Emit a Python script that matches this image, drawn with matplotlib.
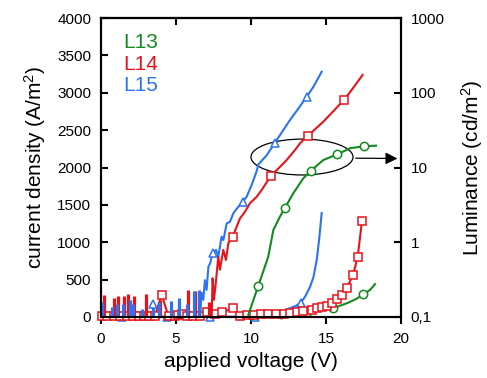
import matplotlib
matplotlib.use("Agg")
import matplotlib.pyplot as plt
from matplotlib.patches import Ellipse
from matplotlib.ticker import NullLocator

plt.rcParams['font.family'] = ['Liberation Sans', 'DejaVu Sans']
plt.rcParams['mathtext.fontset'] = 'custom'
plt.rcParams['mathtext.rm'] = 'Liberation Sans'
plt.rcParams['mathtext.it'] = 'Liberation Sans'

GREEN = '#138a1f'
RED = '#e5141b'
BLUE = '#2b73f2'

# ---------------- data ----------------
x_ticks = [0, 5, 10, 15, 20]
j_ticks = [0, 500, 1000, 1500, 2000, 2500, 3000, 3500, 4000]
lum_ticks = [0.1, 1, 10, 100, 1000]
lum_tick_labels = ['0,1', '1', '10', '100', '1000']
series_names = ['L13', 'L14', 'L15']

# current density (A/m^2), left axis
j_red_v = [0.04, 0.42, 0.85, 1.25, 1.7, 2.1, 2.5, 2.85, 3.2, 3.6, 4.04, 4.5, 4.9, 5.1, 5.4,
           5.75, 6.16, 6.6, 7.04, 7.6, 8.04, 8.78, 9.27, 9.75, 10.2, 10.67, 11.15, 11.67,
           12.2, 12.6, 13.04, 13.49, 14.04, 14.38, 14.71, 15.04, 15.38, 15.71, 16.04,
           16.38, 16.8, 17.11, 17.4]
j_red = [10, 10, 10, 10, 10, 10, 10, 10, 10, 10, 300, 10, 10, 30, 40,
         10, 10, 10, 71, 40, 62, 116, 20, 22, 27, 36, 36, 40,
         40, 58, 62, 80, 94, 116, 130, 151, 183, 237, 294,
         384, 562, 799, 1289]

j_blue_v = [0.0, 1.38, 4.38, 7.27, 10.27, 11.9, 12.5, 13.0, 13.31, 13.6, 13.93, 14.16, 14.38, 14.56, 14.71]
j_blue = [5, 5, 5, 5, 5, 40, 110, 150, 190, 270, 400, 530, 760, 1070, 1390]
j_blue_marks = [1, 2, 3, 4, 8]

j_green_v = [9.8, 9.98, 11.0, 12.0, 13.0, 13.71, 14.6, 15.49, 16.38, 17.0, 17.49, 17.93, 18.27]
j_green = [5, 27, 33, 40, 52, 62, 85, 120, 183, 240, 303, 361, 440]
j_green_marks = [1, 3, 5, 7, 10]

# luminance (cd/m^2), right axis
lum_blue_v = [6.6, 6.71, 6.82, 6.93, 7.04, 7.16, 7.27, 7.44, 7.67, 7.82, 8.04, 8.16, 8.38, 8.6,
              8.82, 9.16, 9.45, 9.71, 10.04, 10.38, 10.49, 11.04, 11.6, 12.16, 12.6, 13.27,
              13.71, 14.16, 14.71]
lum_blue = [0.1, 0.21, 0.17, 0.31, 0.23, 0.47, 0.52, 0.71, 0.79, 0.64, 1.19, 1.07, 1.79, 1.88,
            2.44, 2.99, 3.48, 4.06, 5.8, 9.0, 11.0, 14.5, 21.5, 31.8, 43.2, 66.0,
            88.5, 120, 191]
lum_blue_mark_v = [3.44, 7.44, 9.45, 11.6, 13.71]
lum_blue_mark = [0.15, 0.71, 3.48, 21.5, 88.5]

lum_red_v = [7.38, 7.44, 7.53, 7.67, 7.82, 7.93, 8.15, 8.33, 8.49, 8.78, 9.27, 9.6, 9.93,
             10.38, 10.71, 11.15, 11.31, 11.93, 12.38, 12.93, 13.27, 13.8, 14.82, 16.2,
             16.71, 17.44]
lum_red = [0.1, 0.33, 0.17, 0.31, 0.64, 0.43, 0.79, 0.58, 0.97, 1.19, 2.09, 2.56, 3.32,
           4.06, 5.0, 6.81, 7.7, 10.2, 12.6, 17.1, 21.1, 26.6, 41.0, 80.0,
           109, 173]
lum_red_mark_v = [8.78, 11.31, 13.8, 16.2]
lum_red_mark = [1.19, 7.7, 26.6, 80.0]

lum_green_v = [9.82, 10.49, 11.15, 11.49, 11.93, 12.27, 12.82, 13.49, 13.98, 14.82, 15.76,
               16.6, 17.51, 18.33]
lum_green = [0.107, 0.262, 0.64, 1.46, 2.2, 2.9, 4.52, 7.18, 9.0, 12.6, 15.0,
             18.1, 19.2, 19.6]
lum_green_mark_v = [10.49, 12.27, 13.98, 15.76, 17.51]
lum_green_mark = [0.262, 2.9, 9.0, 15.0, 19.2]

# noise spikes of luminance at low voltage
spike_red_v = [0.2, 0.87, 1.16, 1.53, 1.82, 2.22, 2.98, 3.95, 5.82, 6.27, 6.5, 7.2]
spike_red = [0.197, 0.178, 0.19, 0.193, 0.2, 0.19, 0.2, 0.17, 0.23, 0.225, 0.22, 0.16]
spike_blue_v = [0.09, 0.71, 1.04, 1.49, 1.93, 2.16, 2.71, 3.44, 3.89, 4.67, 5.22, 5.71, 6.2, 6.5]
spike_blue = [0.16, 0.137, 0.15, 0.15, 0.17, 0.15, 0.127, 0.15, 0.16, 0.165, 0.178, 0.15, 0.224, 0.23]

# ---------------- figure ----------------
fig = plt.figure(figsize=(4.87, 3.78), dpi=100)
ax = fig.add_axes([101 / 487, 1 - 317 / 378, 300 / 487, 299 / 378])
ax2 = ax.twinx()

lw = 1.5
ms = 6
mew = 1.1

# current density (left)
ax.plot(j_blue_v, j_blue, color=BLUE, lw=lw, marker='^', ms=ms, mfc='white', mec=BLUE,
        mew=mew, markevery=j_blue_marks, zorder=3, clip_on=False)
ax.plot(j_green_v, j_green, color=GREEN, lw=lw, marker='o', ms=ms, mfc='white', mec=GREEN,
        mew=mew, markevery=j_green_marks, zorder=3, clip_on=False)
ax.plot(j_red_v, j_red, color=RED, lw=lw, marker='s', ms=ms, mfc='white', mec=RED,
        mew=mew, zorder=4, clip_on=False)

# luminance (right, log)
ax2.vlines(spike_red_v, 0.1, spike_red, color=RED, lw=2.3)
ax2.vlines(spike_blue_v, 0.1, spike_blue, color=BLUE, lw=2.3)
ax2.plot(lum_blue_v, lum_blue, color=BLUE, lw=lw)
ax2.plot(lum_blue_mark_v, lum_blue_mark, ls='none', marker='^', ms=ms, mfc='white', mec=BLUE, mew=mew)
ax2.plot(lum_red_v, lum_red, color=RED, lw=lw)
ax2.plot(lum_red_mark_v, lum_red_mark, ls='none', marker='s', ms=ms, mfc='white', mec=RED, mew=mew)
ax2.plot(lum_green_v, lum_green, color=GREEN, lw=lw)
ax2.plot(lum_green_mark_v, lum_green_mark, ls='none', marker='o', ms=ms, mfc='white', mec=GREEN, mew=mew)

# axes limits / scales
ax.set_xlim(0, 20)
ax.set_ylim(0, 4000)
ax2.set_yscale('log')
ax2.set_ylim(0.1, 1000)

ax.set_xticks(x_ticks)
ax.set_xticklabels([str(t) for t in x_ticks])
ax.set_yticks(j_ticks)
ax.set_yticklabels([str(t) for t in j_ticks])
ax2.set_yticks(lum_ticks)
ax2.set_yticklabels(lum_tick_labels)
ax2.yaxis.set_minor_locator(NullLocator())

for sp in ax.spines.values():
    sp.set_linewidth(1.5)
for sp in ax2.spines.values():
    sp.set_linewidth(1.5)

ax.tick_params(axis='y', direction='in', length=5, width=1.5, labelsize=11, pad=7)
ax.tick_params(axis='x', direction='out', length=5, width=1.5, labelsize=11, pad=6)
ax2.tick_params(axis='y', which='both', direction='in', length=5, width=1.5, labelsize=11, pad=7)

sec = ax.secondary_xaxis('top')
sec.set_xticks(x_ticks)
sec.tick_params(direction='in', length=5, width=1.5, labeltop=False)
sec.spines['top'].set_linewidth(1.5)

ax.set_xlabel('applied voltage (V)', fontsize=15, labelpad=4)
ax.set_ylabel('current density (A/m$^2$)', fontsize=15, labelpad=7)
ax2.set_ylabel('Luminance (cd/m$^2$)', fontsize=15, labelpad=10)

# series labels
label_colors = [GREEN, RED, BLUE]
for i, (name, c) in enumerate(zip(series_names, label_colors)):
    ax.text(0.075, 0.917 - i * 0.072, name, color=c, fontsize=15, transform=ax.transAxes,
            ha='left', va='center')

# ellipse and arrow pointing to the luminance axis
ell = Ellipse((13.4, 2140), width=6.8, height=480, fill=False, edgecolor='black', lw=0.9, zorder=6)
ax.add_patch(ell)
ax.annotate('', xy=(19.95, 2120), xytext=(16.8, 2125),
            arrowprops=dict(arrowstyle='-|>', color='black', lw=0.9, mutation_scale=18),
            zorder=6)

fig.savefig('out.png', dpi=100)
